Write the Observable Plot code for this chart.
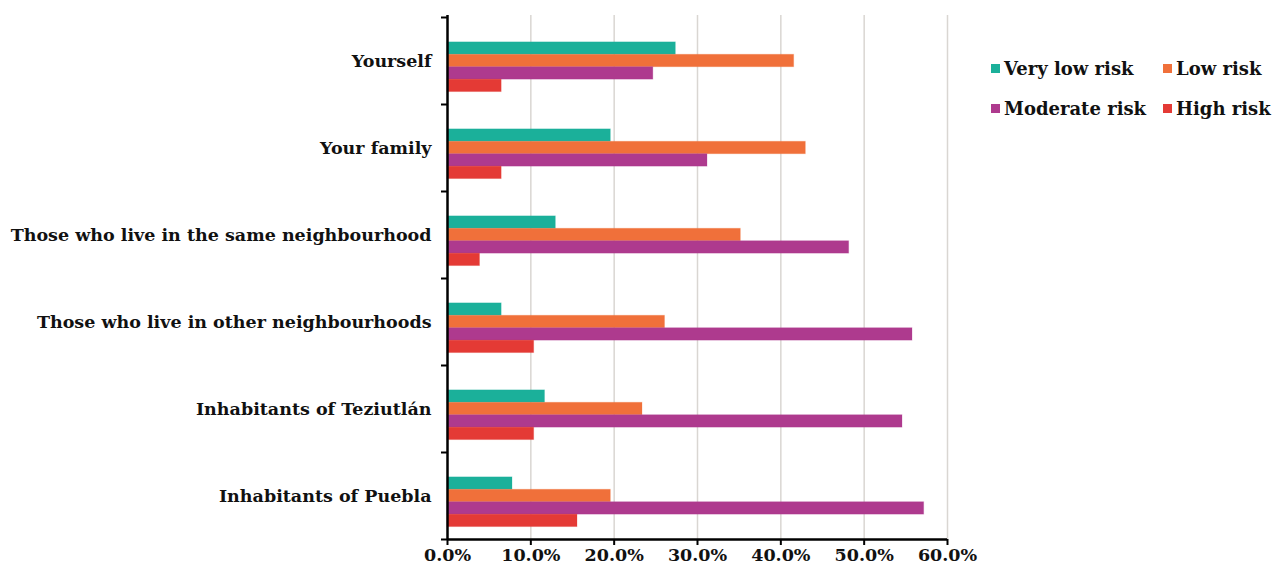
<!DOCTYPE html>
<html><head><meta charset="utf-8">
<script src="https://cdn.jsdelivr.net/npm/d3@7"></script>
<script src="https://cdn.jsdelivr.net/npm/@observablehq/plot@0.6"></script>
<style>
body{margin:0;background:#fff;}
#wrap{position:relative;width:1272px;height:570px;overflow:hidden;font-family:"DejaVu Serif",serif;font-weight:bold;color:#111;}
#legend{position:absolute;left:991px;top:57px;display:grid;grid-template-columns:172px 110px;row-gap:18px;font-size:18px;}
#legend .item{display:flex;align-items:center;white-space:nowrap;height:22px;}
#legend .sw{width:9px;height:9px;margin-right:4px;flex:none;}
</style></head><body><div id="wrap"><div id="legend"></div></div>
<script>
const groups = ["Yourself","Your family","Those who live in the same neighbourhood","Those who live in other neighbourhoods","Inhabitants of Teziutlán","Inhabitants of Puebla"];
const seriesNames = ["Very low risk","Low risk","Moderate risk","High risk"];
const colors = ["#1bb09a","#f0703a","#ae3a8e","#e43a35"];
const veryLow = [27.4,19.6,13.0,6.5,11.7,7.8];
const low = [41.6,43.0,35.2,26.1,23.4,19.6];
const moderate = [24.7,31.2,48.2,55.8,54.6,57.2];
const high = [6.5,6.5,3.9,10.4,10.4,15.6];
const xTicks = [0,10,20,30,40,50,60];

const seriesValues = [veryLow, low, moderate, high];
const slots = 7, lead = 2;
const rows = groups.flatMap((g, gi) => seriesNames.map((s, si) => ({
  group: g, series: s, value: seriesValues[si][gi],
  y1: gi * slots + lead + si, y2: gi * slots + lead + si + 1
})));
const boundaries = d3.range(groups.length + 1).map(i => i * slots);
const centers = groups.map((g, i) => i * slots + slots / 2);
const total = groups.length * slots;

const chart = Plot.plot({
  width: 1272, height: 570,
  marginLeft: 447, marginRight: 325, marginTop: 17, marginBottom: 31,
  style: {fontFamily: "'DejaVu Serif', serif", fontWeight: "bold", fontSize: "16px", color: "#111", background: "transparent", overflow: "visible"},
  x: {type: "linear", domain: [0, 60]},
  y: {type: "linear", domain: [0, total], reverse: true},
  color: {domain: seriesNames, range: colors},
  marks: [
    Plot.ruleX(xTicks.slice(1), {stroke: "#d9d6d2", strokeWidth: 1.5, insetTop: -2}),
    Plot.rect(rows, {x1: 0, x2: "value", y1: "y1", y2: "y2", fill: "series", stroke: "series", strokeOpacity: 0.25, strokeWidth: 1}),
    Plot.ruleX([0], {stroke: "#000", strokeWidth: 2.5, insetTop: -2}),
    Plot.ruleY([total], {stroke: "#000", strokeWidth: 2.5}),
    Plot.axisY(boundaries, {tickSize: 6, tickFormat: () => "", stroke: "#000", strokeWidth: 2, label: null}),
    Plot.axisY(centers, {tickSize: 0, tickPadding: 16, tickFormat: d => groups[Math.floor(d / slots)], fontSize: 17.5, label: null}),
    Plot.axisX(xTicks, {tickSize: 6, tickPadding: 3, stroke: "#000", strokeWidth: 2, tickFormat: d => d.toFixed(1) + "%", fontSize: 17.5, label: null})
  ]
});
const wrap = document.getElementById("wrap");
wrap.insertBefore(chart, wrap.firstChild);

const legend = document.getElementById("legend");
seriesNames.forEach((s, i) => {
  const it = document.createElement("div");
  it.className = "item";
  it.innerHTML = `<span class="sw" style="background:${colors[i]}"></span><span>${s}</span>`;
  legend.appendChild(it);
});
</script>
</body></html>
